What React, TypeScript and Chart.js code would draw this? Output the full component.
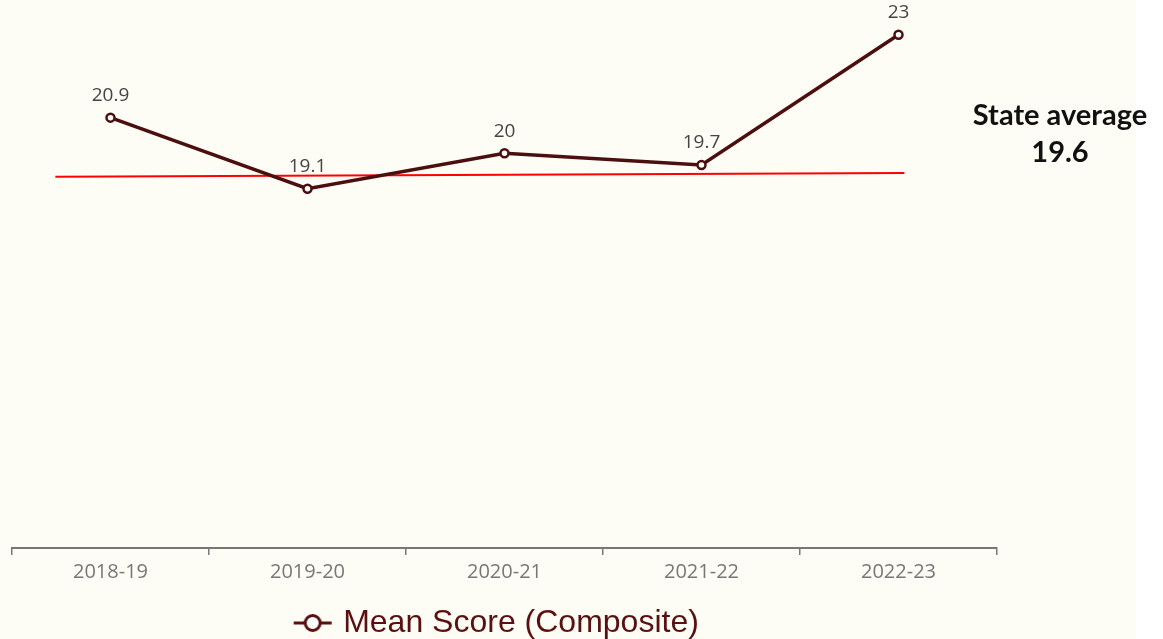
import React, { useEffect, useRef } from "react";
import { Chart, registerables } from "chart.js";

Chart.register(...registerables);

const categories = ["2018-19", "2019-20", "2020-21", "2021-22", "2022-23"];
const meanScores = [20.9, 19.1, 20, 19.7, 23];
const stateAverageLine = [
  { x: -0.28, y: 19.4 },
  { x: 4.03, y: 19.5 },
];
const stateAverageText = ["State average", "19.6"];
const seriesName = "Mean Score (Composite)";

const LINE_COLOR = "#4b0f0f";
const BG = "#fefdf5";

function makeLegendMarker(): HTMLCanvasElement {
  const c = document.createElement("canvas");
  c.width = 40;
  c.height = 24;
  const ctx = c.getContext("2d")!;
  ctx.strokeStyle = "#5a1010";
  ctx.lineWidth = 3;
  ctx.beginPath();
  ctx.moveTo(1, 12);
  ctx.lineTo(39, 12);
  ctx.stroke();
  ctx.beginPath();
  ctx.arc(20, 12, 7.5, 0, Math.PI * 2);
  ctx.fillStyle = "#ffffff";
  ctx.fill();
  ctx.stroke();
  return c;
}

export default function App() {
  const ref = useRef<HTMLCanvasElement | null>(null);

  useEffect(() => {
    if (!ref.current) return;
    const marker = makeLegendMarker();

    const labelPlugin = {
      id: "pointLabels",
      afterLayout(chart: any) {
        const l = chart.legend;
        if (l) {
          l.top += 10;
          l.bottom += 10;
          l.left -= 6;
          l.right -= 6;
        }
      },
      afterDatasetsDraw(chart: any) {
        const ctx = chart.ctx;
        const meta = chart.getDatasetMeta(0);
        ctx.save();
        ctx.font = '19px "Open Sans"';
        ctx.fillStyle = "#444444";
        ctx.textAlign = "center";
        ctx.textBaseline = "middle";
        meta.data.forEach((pt: any, i: number) => {
          ctx.fillText(String(meanScores[i]), pt.x, pt.y - 22);
        });
        // state average annotation
        ctx.font = "bold 29px Lato";
        ctx.fillStyle = "#111111";
        const cx = chart.chartArea.right + 63;
        const y = chart.scales.y.getPixelForValue(19.6);
        ctx.fillText(stateAverageText[0], cx, y - 53);
        ctx.fillText(stateAverageText[1], cx, y - 16);
        ctx.restore();
      },
    };

    const chart = new Chart(ref.current, {
      type: "line",
      data: {
        labels: categories,
        datasets: [
          {
            label: seriesName,
            data: meanScores,
            borderColor: LINE_COLOR,
            borderWidth: 3.5,
            pointRadius: 4,
            pointBorderWidth: 2.5,
            pointBackgroundColor: "#ffffff",
            pointBorderColor: LINE_COLOR,
            tension: 0,
            xAxisID: "x",
            yAxisID: "y",
          },
          {
            label: "State average",
            data: stateAverageLine as any,
            borderColor: "#ff0000",
            borderWidth: 2,
            pointRadius: 0,
            xAxisID: "x2",
            yAxisID: "y",
          },
        ],
      },
      options: {
        responsive: false,
        animation: false,
        devicePixelRatio: 1,
        layout: { padding: { left: 12, right: 166, top: 15, bottom: 0 } },
        scales: {
          x: {
            type: "category",
            offset: true,
            grid: {
              display: true,
              drawOnChartArea: false,
              drawTicks: true,
              tickLength: 7,
              color: "#777777",
              lineWidth: 1.5,
              offset: true,
            },
            border: { display: true, color: "#777777", width: 2 },
            ticks: {
              color: "#777777",
              font: { family: '"Open Sans"', size: 20 },
              padding: 5,
            },
          },
          x2: {
            type: "linear",
            min: -0.5,
            max: 4.5,
            display: false,
          },
          y: {
            min: 10,
            max: 23.5,
            display: false,
          },
        },
        plugins: {
          legend: {
            position: "bottom",
            labels: {
              color: "#5a1010",
              font: { family: '"Liberation Sans"', size: 32 },
              usePointStyle: true,
              pointStyleWidth: 29,
              padding: 8,
              generateLabels: () => [
                {
                  text: seriesName,
                  fillStyle: "#ffffff",
                  strokeStyle: "#5a1010",
                  fontColor: "#5a1010",
                  pointStyle: marker,
                  datasetIndex: 0,
                  hidden: false,
                  lineWidth: 0,
                },
              ],
            },
          },
          tooltip: { enabled: false },
        },
      },
      plugins: [labelPlugin],
    });
    return () => chart.destroy();
  }, []);

  return (
    <div
      style={{
        position: "absolute",
        left: 0,
        top: 0,
        width: 1163,
        height: 639,
      }}
    >
      <div
        style={{
          position: "absolute",
          left: 0,
          top: 0,
          width: 1136,
          height: 639,
          background: BG,
        }}
      />
      <canvas
        ref={ref}
        width={1163}
        height={639}
        style={{ display: "block", position: "relative" }}
      />
    </div>
  );
}
